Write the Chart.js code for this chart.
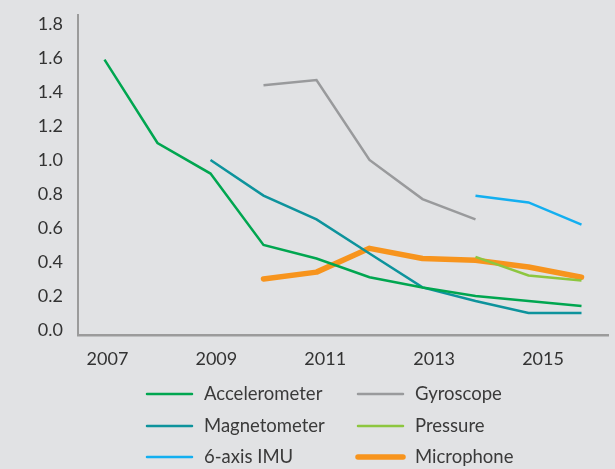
<!DOCTYPE html>
<html>
<head>
<meta charset="utf-8">
<script src="https://cdn.jsdelivr.net/npm/chart.js@4.4.1/dist/chart.umd.min.js"></script>
<style>
  html, body { margin: 0; padding: 0; background: #e1e2e4; }
  #wrap { width: 615px; height: 469px; position: relative; }
</style>
</head>
<body>
<div id="wrap"><canvas id="sensorChart"></canvas></div>
<script>
// data
const years = [2007, 2008, 2009, 2010, 2011, 2012, 2013, 2014, 2015, 2016];
const tickYears = [2007, 2009, 2011, 2013, 2015];
const yTicks = [0, 0.2, 0.4, 0.6, 0.8, 1.0, 1.2, 1.4, 1.6, 1.8];

const accelerometer = [1.59, 1.10, 0.92, 0.50, 0.42, 0.31, 0.25, 0.20, 0.17, 0.14];
const magnetometer  = [null, null, 1.00, 0.79, 0.65, 0.45, 0.25, 0.17, 0.10, 0.10];
const imu6axis      = [null, null, null, null, null, null, null, 0.79, 0.75, 0.62];
const gyroscope     = [null, null, null, 1.44, 1.47, 1.00, 0.77, 0.65, null, null];
const pressure      = [null, null, null, null, null, null, null, 0.43, 0.32, 0.29];
const microphone    = [null, null, null, 0.30, 0.34, 0.48, 0.42, 0.41, 0.37, 0.31];

const toPoints = vals => years.map((yr, i) => ({ x: yr, y: vals[i] }));

const FONT = 'Lato, "Open Sans", sans-serif';

// two-column legend (column major, like the original)
const gridLegend = {
  id: 'gridLegend',
  afterDraw(chart) {
    const ctx = chart.ctx;
    const cols = [147, 358];
    const rows = [394, 426, 457];
    ctx.save();
    ctx.font = '18.5px ' + FONT;
    ctx.textBaseline = 'middle';
    ctx.fillStyle = '#3a3a3a';
    chart.data.datasets.forEach((ds, i) => {
      const x = cols[Math.floor(i / 3)];
      const y = rows[i % 3];
      ctx.beginPath();
      ctx.strokeStyle = ds.borderColor;
      ctx.lineWidth = ds.borderWidth;
      ctx.lineCap = 'round';
      ctx.moveTo(x, y);
      ctx.lineTo(x + 45, y);
      ctx.stroke();
      ctx.fillText(ds.label, x + 57, y);
    });
    ctx.restore();
  }
};

const ctx = document.getElementById('sensorChart').getContext('2d');
new Chart(ctx, {
  type: 'line',
  data: {
    datasets: [
      { label: 'Accelerometer', data: toPoints(accelerometer), borderColor: '#00a650', borderWidth: 2.5 },
      { label: 'Magnetometer', data: toPoints(magnetometer), borderColor: '#0d939c', borderWidth: 2.5 },
      { label: '6-axis IMU', data: toPoints(imu6axis), borderColor: '#13aff0', borderWidth: 2.5 },
      { label: 'Gyroscope', data: toPoints(gyroscope), borderColor: '#999a9c', borderWidth: 2.5 },
      { label: 'Pressure', data: toPoints(pressure), borderColor: '#8dc63f', borderWidth: 2.5 },
      { label: 'Microphone', data: toPoints(microphone), borderColor: '#f7941d', borderWidth: 5.5, borderCapStyle: 'round', borderJoinStyle: 'round' }
    ]
  },
  options: {
    responsive: true,
    maintainAspectRatio: false,
    animation: false,
    layout: { padding: { top: 15, right: 7, bottom: 104, left: 0 } },
    elements: { point: { radius: 0 }, line: { tension: 0 } },
    plugins: {
      legend: { display: false },
      tooltip: { enabled: false }
    },
    scales: {
      x: {
        type: 'linear',
        display: false,
        min: 2006.5,
        max: 2016.5
      },
      xLabels: {
        type: 'linear',
        position: 'bottom',
        min: 2006.459,
        max: 2016.193,
        afterBuildTicks: s => { s.ticks = tickYears.map(v => ({ value: v })); },
        afterFit: s => { s.height = 30; },
        grid: { display: false, drawTicks: false },
        border: { display: true, color: '#9b9b9b', width: 2.5 },
        ticks: {
          padding: 13,
          maxRotation: 0,
          color: '#333',
          font: { family: FONT, size: 18 },
          callback: v => String(v)
        }
      },
      y: {
        min: -0.03,
        max: 1.853,
        afterBuildTicks: s => { s.ticks = yTicks.map(v => ({ value: v })); },
        afterFit: s => { s.width = 78; s.paddingTop = 0; s.paddingBottom = 0; },
        grid: { display: false, drawTicks: false },
        border: { display: true, color: '#9b9b9b', width: 2 },
        ticks: {
          padding: 15,
          color: '#333',
          font: { family: FONT, size: 18 },
          callback: v => v.toFixed(1)
        }
      }
    }
  },
  plugins: [gridLegend]
});
</script>
</body>
</html>
